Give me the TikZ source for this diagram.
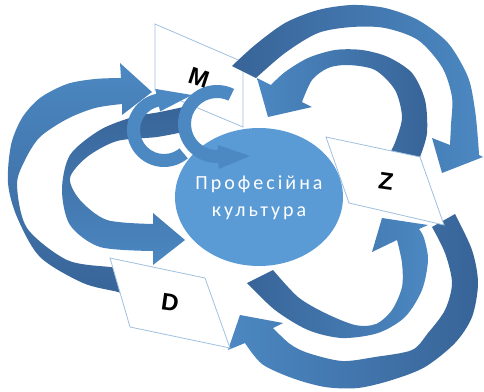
\documentclass[tikz,border=0pt]{standalone}
\usepackage{fontspec}
\usetikzlibrary{shapes.geometric,calc}
\newfontfamily\corefont[LetterSpace=15]{Carlito}
\newfontfamily\letfont{Liberation Sans}
\definecolor{arrDark}{RGB}{56,100,152}
\definecolor{arrLight}{RGB}{76,136,194}
\definecolor{circ}{RGB}{91,155,213}
\definecolor{pborder}{RGB}{160,192,224}
\tikzset{
  band/.style={draw=none},
  pgram/.style={fill=white, draw=pborder, line width=0.8pt, line join=miter},
  letter/.style={font=\letfont\bfseries\fontsize{24}{24}\selectfont, text=black, inner sep=0pt},
  ring/.style={fill=arrLight, draw=none},
}
\begin{document}
\begin{tikzpicture}[x=1pt,y=-1pt]
\useasboundingbox (0,0) rectangle (484,391);
% parallelogram M (under arrow A tail)
\path[pgram] (155,24) coordinate (m1) -- (243,62) coordinate (m2) -- (243,127) coordinate (m3) -- (155,90) coordinate (m4) -- cycle;
% F: outer left arrow, D -> M
\path[band, top color=arrLight, middle color=arrLight, bottom color=arrDark]
 plot[smooth] coordinates {(130,297) (118,292) (83,283) (40,257) (17,217) (8,183) (11,145) (22,118) (40,98) (67,84) (95,79) (121,78)}
 -- (120,63) -- (152,92) -- (122,115) --
 plot[smooth] coordinates {(122,104) (95,108) (67,119) (40,137) (25,160) (17,185) (27,228) (67,260) (110,267) (127,268)}
 -- cycle;
% G: inner left arrow -> circle
\path[band, top color=arrDark, bottom color=arrLight]
 plot[smooth] coordinates {(188,106) (160,112) (133,117) (100,130) (70,155) (62,190) (70,225) (100,247) (153,251)}
 -- (153,265) -- (185,240) -- (153,213) --
 plot[smooth] coordinates {(153,224) (107,220) (80,200) (70,178) (87,157) (117,141) (157,137) (188,131)}
 -- cycle;
% A: outer top-right arrow, M -> Z
\path[band, left color=arrDark, middle color=arrDark, right color=arrLight]
 plot[smooth] coordinates {(232,66) (255,45) (285,23) (318,10) (352,5) (385,8) (418,20) (448,43) (468,77) (475,110) (478,140) (479,155)}
 -- (483,157) -- (442,173) -- (432,138) --
 plot[smooth] coordinates {(450,145) (451,125) (452,97) (442,67) (418,40) (385,28) (352,27) (318,33) (285,53) (256,78)}
 -- cycle;
% B: inner top-right arrow, Z -> M
\path[band, left color=arrLight, middle color=arrLight, right color=arrDark]
 plot[smooth] coordinates {(420,157) (427,133) (425,100) (412,73) (388,57) (362,50) (335,50) (308,58) (285,72) (271,85)}
 -- (257,78) -- (268,117) -- (312,107) --
 plot[smooth] coordinates {(302,102) (312,80) (328,68) (348,65) (375,70) (395,90) (402,117) (396,140) (391,151)}
 -- cycle;
% CD: circle -> Z
\path[band, left color=arrDark, middle color=arrLight, right color=arrLight]
 plot[smooth] coordinates {(247,283) (275,310) (308,330) (342,338) (378,333) (405,317) (422,290) (428,260) (424,238) (419,229)}
 -- (428,225) -- (382,218) -- (372,252) --
 plot[smooth] coordinates {(397,240) (402,263) (402,287) (392,310) (376,324) (355,325) (325,313) (298,297) (273,270)}
 -- cycle;
% E: Z -> D
\path[band, left color=arrLight, middle color=arrLight, right color=arrDark]
 plot[smooth] coordinates {(455,214) (472,250) (478,283) (472,317) (455,343) (425,367) (392,380) (358,388) (325,387) (292,378) (262,364) (245,343)}
 -- (228,350) -- (240,315) -- (283,323) --
 plot[smooth] coordinates {(273,328) (290,344) (308,353) (342,361) (375,357) (412,350) (428,333) (445,310) (452,283) (445,253) (432,227)}
 -- cycle;
% parallelograms Z and D
\path[pgram] (326,137) coordinate (z1) -- (420,157) coordinate (z2) -- (444,225) coordinate (z3) -- (349,203) coordinate (z4) -- cycle;
\path[pgram] (110,258) coordinate (d1) -- (205,278) coordinate (d2) -- (230,348) coordinate (d3) -- (130,327) coordinate (d4) -- cycle;
% central circle
\node[ellipse, fill=circ, draw=none, minimum width=168pt, minimum height=138pt, inner sep=0pt] (core) at (259,197) {};
% small circular arrows
\coordinate (c1) at (164,130);
\coordinate (c2) at (217,124);
\path[ring] ($(c1)+(50:37)$) arc[start angle=50, end angle=258, radius=37]
 -- ($(c1)+(258:42)$) -- (192,95) -- ($(c1)+(258:19)$) -- ($(c1)+(258:24)$)
 arc[start angle=258, end angle=50, radius=24] -- cycle;
\path[ring] ($(c2)+(296:39)$) arc[start angle=296, end angle=88, radius=39]
 -- ($(c2)+(88:45)$) -- (250,156) -- ($(c2)+(88:21)$) -- ($(c2)+(88:26)$)
 arc[start angle=88, end angle=296, radius=26] -- cycle;
% texts
\node[text=white, font=\corefont\fontsize{20}{27}\selectfont, align=center] (label) at (259,198) {Професійна\\культура};
\node[letter, rotate=-18] (mlabel) at (199,78) {M};
\node[letter, rotate=-8] (zlabel) at (386,181) {Z};
\node[letter, rotate=-8] (dlabel) at (170,303) {D};
\end{tikzpicture}
\end{document}
